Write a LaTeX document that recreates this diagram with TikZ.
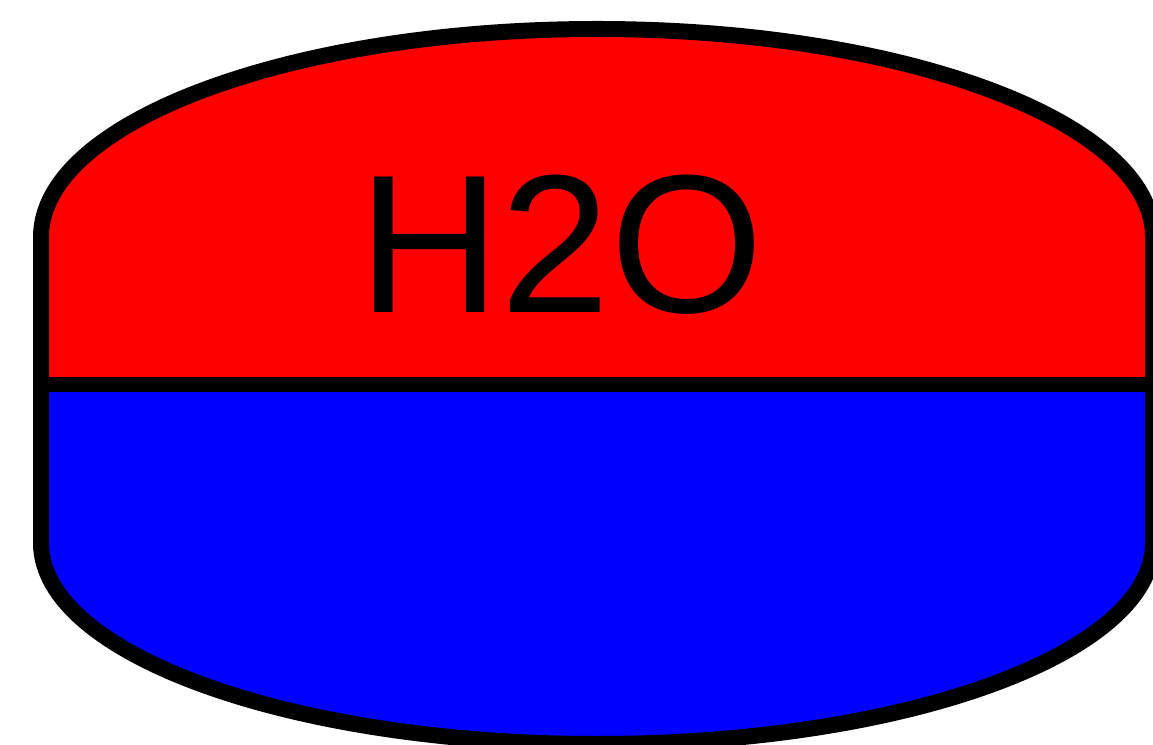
\documentclass[tikz,border=0pt]{standalone}
\usepackage{fontspec}
\setmainfont{Liberation Sans}
\begin{document}
\begin{tikzpicture}[x=1pt,y=1pt,
  outline/.style={draw=black,line width=16pt,line join=miter},
  label/.style={inner sep=0pt,outer sep=0pt,font=\fontsize{197}{200}\selectfont}]
\useasboundingbox (0,0) rectangle (1153,744);
\clip (0,0) rectangle (1153,744);
% top (red) half
\fill[red] (41,359) -- (41,507) arc[start angle=180,end angle=0,x radius=556,y radius=208] -- (1153,359) -- cycle;
% bottom (blue) half
\fill[blue] (41,359) -- (41,201) arc[start angle=180,end angle=360,x radius=556,y radius=201] -- (1153,359) -- cycle;
% outline
\draw[outline] (41,201) -- (41,507) arc[start angle=180,end angle=0,x radius=556,y radius=208]
  -- (1153,201) arc[start angle=0,end angle=-180,x radius=556,y radius=201] -- cycle;
% divider
\draw[draw=black,line width=15pt] (41,359) -- (1153,359);
\node[label,anchor=base] (h2o) at (561,431) {H2O};
\end{tikzpicture}
\end{document}
